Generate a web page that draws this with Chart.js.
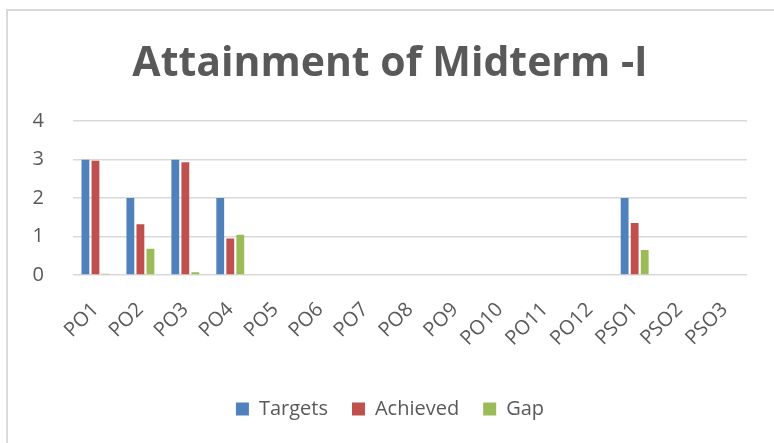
<!DOCTYPE html>
<html>
<head>
<meta charset="utf-8">
<script src="https://cdn.jsdelivr.net/npm/chart.js@4.4.0/dist/chart.umd.min.js"></script>
<style>
  body { margin: 0; background: #fff; overflow: hidden; }
  #frame { position: absolute; left: 6px; top: 9px; width: 820px; height: 480px; border: 2px solid #d9d9d9; }
  #chart { position: absolute; left: 0; top: 0; }
</style>
</head>
<body>
<div id="frame"></div>
<canvas id="chart" width="774" height="443"></canvas>
<script>
// chart data
const categories = ['PO1', 'PO2', 'PO3', 'PO4', 'PO5', 'PO6', 'PO7', 'PO8', 'PO9', 'PO10', 'PO11', 'PO12', 'PSO1', 'PSO2', 'PSO3'];
const targets  = [3, 2, 3, 2, 0, 0, 0, 0, 0, 0, 0, 0, 2, 0, 0];
const achieved = [2.97, 1.32, 2.93, 0.95, 0, 0, 0, 0, 0, 0, 0, 0, 1.35, 0, 0];
const gap      = [0.03, 0.68, 0.07, 1.05, 0, 0, 0, 0, 0, 0, 0, 0, 0.65, 0, 0];
const yTicks = [0, 1, 2, 3, 4];

const textColor = '#595959';
const fontFamily = '"Open Sans", "Liberation Sans", sans-serif';

const ctx = document.getElementById('chart').getContext('2d');
new Chart(ctx, {
    type: 'bar',
    data: {
        labels: categories,
        datasets: [
            { label: 'Targets', data: targets, backgroundColor: '#4f81bd' },
            { label: 'Achieved', data: achieved, backgroundColor: '#c0504d' },
            { label: 'Gap', data: gap, backgroundColor: '#9bbb59' }
        ]
    },
    options: {
        responsive: false,
        animation: false,
        layout: { padding: { left: 33, right: 27, top: 40, bottom: 14 } },
        datasets: {
            bar: { categoryPercentage: 0.67, barPercentage: 0.78 }
        },
        scales: {
            x: {
                grid: { display: false },
                border: { display: false },
                ticks: {
                    color: textColor,
                    font: { family: fontFamily, size: 20 },
                    minRotation: 45,
                    maxRotation: 45,
                    autoSkip: false,
                    padding: 15
                },
                // keep the plot edges fixed, labels may hang outside
                afterFit: (scale) => {
                    scale.paddingLeft = 0;
                    scale.paddingRight = 0;
                    scale.height = 100;
                }
            },
            y: {
                min: 0,
                max: 4,
                afterBuildTicks: (axis) => { axis.ticks = yTicks.map(v => ({ value: v })); },
                afterFit: (scale) => { scale.width = 40; },
                grid: { color: '#d9d9d9', lineWidth: 1.5, drawTicks: false },
                border: { display: false },
                ticks: {
                    color: textColor,
                    font: { family: fontFamily, size: 20 },
                    padding: 29
                }
            }
        },
        plugins: {
            title: {
                display: true,
                text: 'Attainment of Midterm -I',
                color: textColor,
                font: { family: fontFamily, size: 41, weight: 'bold' },
                padding: { top: 0, bottom: 32 }
            },
            legend: {
                position: 'bottom',
                labels: {
                    color: textColor,
                    font: { family: fontFamily, size: 20 },
                    boxWidth: 13,
                    boxHeight: 13,
                    padding: 24
                }
            },
            tooltip: { enabled: false }
        }
    }
});
</script>
</body>
</html>
